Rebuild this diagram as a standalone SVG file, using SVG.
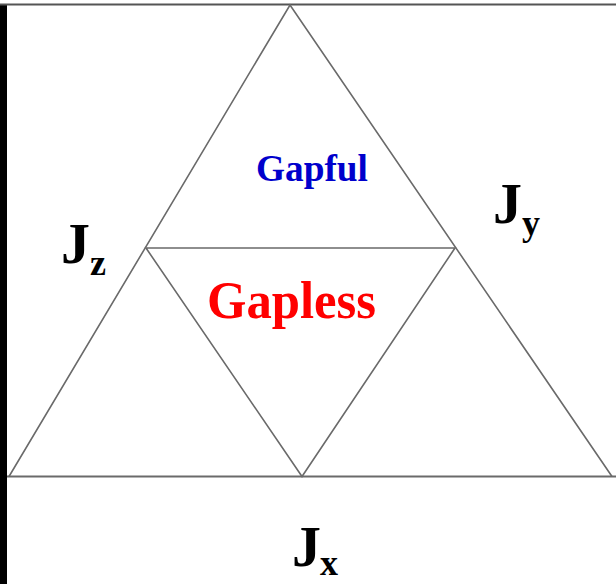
<svg xmlns="http://www.w3.org/2000/svg" width="616" height="584" viewBox="0 0 616 584">
<style>
.ln{stroke:#6a6a6a;stroke-width:1.6;fill:none;}
.lab{font-family:"Liberation Serif","Times New Roman",serif;font-weight:bold;fill:#000;}
.big{font-size:58px;}
.sub{font-size:36px;}
</style>
<rect x="0" y="0" width="616" height="584" fill="#fff"/>
<rect x="0" y="5" width="7" height="579" fill="#000"/>
<g id="connectors">
<line class="ln" x1="0" y1="4.5" x2="616" y2="4.5" style="stroke:#555;stroke-width:2"/>
<line class="ln" x1="7" y1="476.5" x2="616" y2="476.5" style="stroke-width:2"/>
</g>
<g id="outer-triangle">
<polyline class="ln" points="9,476.5 290,5 612,476.5"/>
</g>
<g id="inner-triangle">
<polygon class="ln" points="146,248 455,248 302,476.5"/>
</g>
<g id="gapful">
<text x="256" y="181" font-family="Liberation Serif,Times New Roman,serif" font-weight="bold" font-size="37" fill="#0000cc" textLength="112" lengthAdjust="spacingAndGlyphs">Gapful</text>
</g>
<g id="gapless">
<text x="207" y="318" font-family="Liberation Serif,Times New Roman,serif" font-weight="bold" font-size="52" fill="#ff0000" textLength="169" lengthAdjust="spacingAndGlyphs">Gapless</text>
</g>
<g id="jz">
<text class="lab big" x="61" y="263">J</text><text class="lab sub" x="90" y="275">z</text>
</g>
<g id="jy">
<text class="lab big" x="493" y="223">J</text><text class="lab sub" x="522" y="235">y</text>
</g>
<g id="jx">
<text class="lab big" x="292" y="566">J</text><text class="lab sub" x="320" y="575">x</text>
</g>
</svg>
